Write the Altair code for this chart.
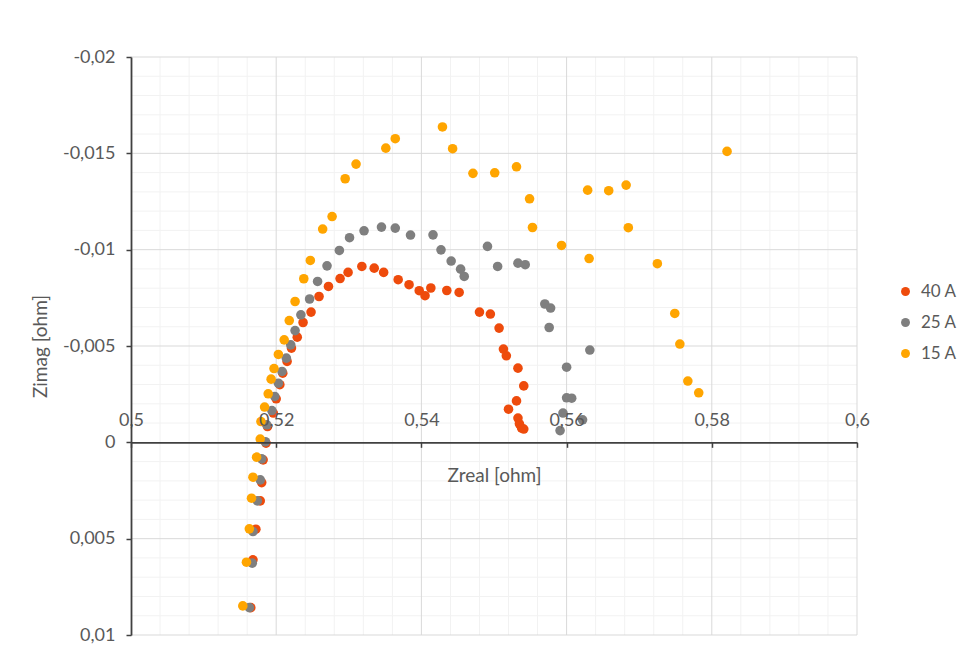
import altair as alt
import pandas as pd

# ---------------- data ----------------
series_names = ["40 A", "25 A", "15 A"]
series_colors = ["#EE4B0C", "#7F7F7F", "#FFA500"]

zreal_40 = [0.5165, 0.5168, 0.5172, 0.5178, 0.5180, 0.5182, 0.5186, 0.5188, 0.5196, 0.5200,
            0.5205, 0.5209, 0.5215, 0.5221, 0.5229, 0.5237, 0.5248, 0.5259, 0.5272, 0.5288,
            0.5299, 0.5318, 0.5335, 0.5348, 0.5368, 0.5383, 0.5397, 0.5405, 0.5413, 0.5435,
            0.5452, 0.5480, 0.5495, 0.5507, 0.5513, 0.5517, 0.5533, 0.5541, 0.5531, 0.5520,
            0.5533, 0.5535, 0.5538, 0.5541]
zimag_40 = [0.00858, 0.00610, 0.00451, 0.00304, 0.00209, 0.00091, 0.00004, -0.00082, -0.00152, -0.00226,
            -0.00299, -0.00359, -0.00420, -0.00489, -0.00546, -0.00622, -0.00676, -0.00757, -0.00809, -0.00850,
            -0.00882, -0.00913, -0.00904, -0.00882, -0.00844, -0.00818, -0.00787, -0.00761, -0.00801, -0.00788,
            -0.00778, -0.00676, -0.00666, -0.00593, -0.00484, -0.00449, -0.00385, -0.00293, -0.00215, -0.00172,
            -0.00126, -0.00096, -0.00074, -0.00069]

zreal_25 = [0.5163, 0.5167, 0.5168, 0.5174, 0.5178, 0.5180, 0.5185, 0.5187, 0.5194, 0.5198,
            0.5203, 0.5208, 0.5214, 0.5220, 0.5226, 0.5234, 0.5246, 0.5257, 0.5270, 0.5287,
            0.5301, 0.5321, 0.5345, 0.5364, 0.5385, 0.5416, 0.5427, 0.5441, 0.5454, 0.5459,
            0.5491, 0.5505, 0.5533, 0.5543, 0.5570, 0.5578, 0.5576, 0.5632, 0.5600, 0.5600,
            0.5607, 0.5595, 0.5622, 0.5591]
zimag_25 = [0.00858, 0.00627, 0.00463, 0.00304, 0.00195, 0.00086, -0.00003, -0.00091, -0.00165, -0.00238,
            -0.00307, -0.00368, -0.00437, -0.00506, -0.00580, -0.00662, -0.00744, -0.00835, -0.00916, -0.00996,
            -0.01062, -0.01098, -0.01117, -0.01112, -0.01076, -0.01077, -0.00999, -0.00941, -0.00899, -0.00861,
            -0.01017, -0.00913, -0.00930, -0.00922, -0.00718, -0.00697, -0.00596, -0.00479, -0.00390, -0.00231,
            -0.00229, -0.00152, -0.00117, -0.00061]

zreal_15 = [0.5154, 0.5159, 0.5163, 0.5166, 0.5168, 0.5173, 0.5178, 0.5179, 0.5184, 0.5189,
            0.5193, 0.5197, 0.5203, 0.5211, 0.5218, 0.5226, 0.5238, 0.5247, 0.5264, 0.5277,
            0.5295, 0.5310, 0.5351, 0.5364, 0.5429, 0.5443, 0.5471, 0.5501, 0.5531, 0.5549,
            0.5553, 0.5593, 0.5631, 0.5629, 0.5658, 0.5682, 0.5685, 0.5725, 0.5749, 0.5756,
            0.5767, 0.5782, 0.5821]
zimag_15 = [0.00849, 0.00622, 0.00449, 0.00290, 0.00181, 0.00077, -0.00017, -0.00108, -0.00183, -0.00252,
            -0.00328, -0.00383, -0.00456, -0.00532, -0.00632, -0.00731, -0.00849, -0.00944, -0.01107, -0.01172,
            -0.01368, -0.01444, -0.01527, -0.01576, -0.01637, -0.01524, -0.01396, -0.01399, -0.01430, -0.01264,
            -0.01115, -0.01022, -0.00954, -0.01309, -0.01306, -0.01335, -0.01114, -0.00927, -0.00669, -0.00510,
            -0.00318, -0.00257, -0.01510]

# axis tick values / grid values
x_ticks = [0.5, 0.52, 0.54, 0.56, 0.58, 0.6]
y_ticks = [-0.02, -0.015, -0.01, -0.005, 0, 0.005, 0.01]
x_major_grid = [0.52, 0.54, 0.56, 0.58, 0.6]
y_major_grid = [-0.02, -0.015, -0.01, -0.005, 0.005, 0.01]
x_minor_grid = [0.504, 0.508, 0.512, 0.516, 0.524, 0.528, 0.532, 0.536, 0.544, 0.548,
                0.552, 0.556, 0.564, 0.568, 0.572, 0.576, 0.584, 0.588, 0.592, 0.596]
y_minor_grid = [-0.019, -0.018, -0.017, -0.016, -0.014, -0.013, -0.012, -0.011,
                -0.009, -0.008, -0.007, -0.006, -0.004, -0.003, -0.002, -0.001,
                0.001, 0.002, 0.003, 0.004, 0.006, 0.007, 0.008, 0.009]

# ---------------- build tables ----------------
rows = []
for name, xs, ys in [("40 A", zreal_40, zimag_40), ("25 A", zreal_25, zimag_25), ("15 A", zreal_15, zimag_15)]:
    for xv, yv in zip(xs, ys):
        rows.append({"zreal": xv, "zimag": yv, "series": name})
points = pd.DataFrame(rows)

FONT = "Lato"
TXT = "#595959"
AX = "#404040"

x_scale = alt.Scale(domain=[0.5, 0.6], nice=False, zero=False)
y_scale = alt.Scale(domain=[-0.02, 0.01], nice=False, zero=False, reverse=True)

label_expr = "replace(toString(datum.value), '.', ',')"

x_axis = alt.Axis(title="Zreal [ohm]", values=x_ticks, labelExpr=label_expr,
                  grid=False, offset=-192.67, tickSize=5, labelPadding=-22,
                  labelBaseline="alphabetic", labelFlush=False, labelOverlap=False,
                  titleY=33, titleBaseline="middle", zindex=1)
y_axis = alt.Axis(title="Zimag [ohm]", values=y_ticks, labelExpr=label_expr,
                  grid=False, tickSize=5, labelPadding=11, labelOverlap=False,
                  titleX=-91, titleBaseline="middle", zindex=1)

minor_v = alt.Chart(pd.DataFrame({"v": x_minor_grid})).mark_rule(color="#F2F2F2", strokeWidth=1).encode(
    x=alt.X("v:Q", scale=x_scale, axis=x_axis))
minor_h = alt.Chart(pd.DataFrame({"v": y_minor_grid})).mark_rule(color="#F2F2F2", strokeWidth=1).encode(
    y=alt.Y("v:Q", scale=y_scale, axis=y_axis))
major_v = alt.Chart(pd.DataFrame({"v": x_major_grid})).mark_rule(color="#D9D9D9", strokeWidth=1).encode(
    x=alt.X("v:Q", scale=x_scale, axis=x_axis))
major_h = alt.Chart(pd.DataFrame({"v": y_major_grid})).mark_rule(color="#D9D9D9", strokeWidth=1).encode(
    y=alt.Y("v:Q", scale=y_scale, axis=y_axis))

pts = alt.Chart(points).mark_circle(size=92, opacity=1).encode(
    x=alt.X("zreal:Q", scale=x_scale, axis=x_axis),
    y=alt.Y("zimag:Q", scale=y_scale, axis=y_axis),
    color=alt.Color("series:N", scale=alt.Scale(domain=series_names, range=series_colors),
                    legend=alt.Legend(title=None, orient="none", legendX=766, legendY=226,
                                      symbolType="circle", symbolSize=80, symbolStrokeWidth=0,
                                      labelFontSize=17, labelFont=FONT, labelColor=TXT,
                                      rowPadding=13, labelOffset=7, padding=0)),
)

chart = alt.layer(minor_v, minor_h, major_v, major_h, pts).properties(
    width=726, height=578,
    background="white",
    autosize=alt.AutoSizeParams(type="none"),
    padding={"left": 123, "top": 49, "right": 100, "bottom": 11},
).configure_view(stroke=None).configure_axis(
    domainColor=AX, domainWidth=1.8, tickColor=AX, tickWidth=1.5,
    labelFont=FONT, labelFontSize=18, labelColor=TXT,
    titleFont=FONT, titleFontSize=19, titleColor=TXT, titleFontWeight="normal",
)

chart.save("out.html", embed_options={"renderer": "svg", "actions": False})
